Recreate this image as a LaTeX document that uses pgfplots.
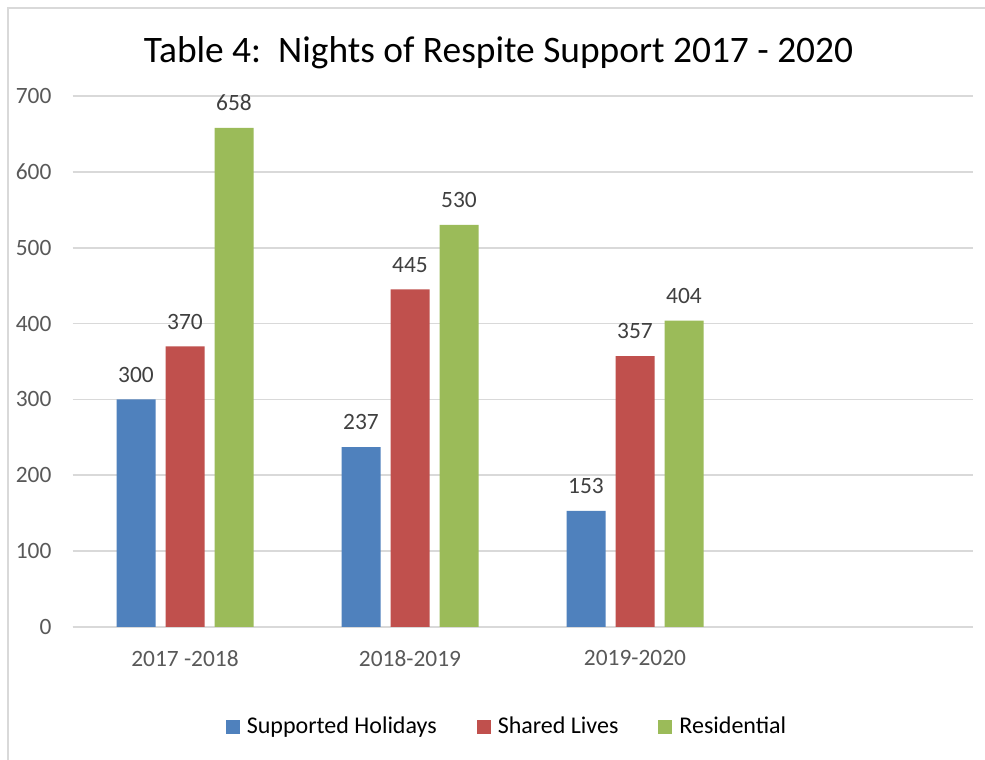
\documentclass[border=0pt]{standalone}
\usepackage{pgfplots}
\pgfplotsset{compat=1.18}
\usepackage{fontspec}
\setmainfont{Carlito}
\definecolor{cblue}{HTML}{4F81BD}
\definecolor{cred}{HTML}{C0504D}
\definecolor{cgreen}{HTML}{9BBB59}
\definecolor{gridc}{HTML}{D9D9D9}
\definecolor{tickc}{HTML}{595959}
\definecolor{labc}{HTML}{404040}
\begin{document}
\begin{tikzpicture}
\path[use as bounding box] (0pt,0pt) rectangle (492.5pt,380pt);
\fill[white] (0pt,0pt) rectangle (492.5pt,380pt);
\draw[gridc, line width=0.8pt] (4pt,0pt) -- (4pt,376pt) -- (492.5pt,376pt);
\node[font=\fontsize{18.7}{22}\selectfont, black] at (249.25pt,353.5pt) {Table 4:\ \ Nights of Respite Support 2017 - 2020};
\begin{axis}[
  at={(36.25pt,66.5pt)}, anchor=south west,
  scale only axis, width=450pt, height=265.5pt,
  xmin=-0.5, xmax=3.5, ymin=0, ymax=700,
  axis line style={draw=none},
  axis x line*=bottom,
  ytick={0,100,...,700},
  xtick={0,1,2,3},
  xticklabels={2017 -2018,2018-2019,2019-2020,{}},
  major tick length=0pt,
  ymajorgrids, grid style={gridc, line width=0.8pt},
  /pgf/number format/assume math mode=true,
  tick label style={font=\fontsize{11.7}{14}\selectfont, text=tickc},
  yticklabel style={xshift=-7pt},
  xticklabel style={yshift=-8pt},
  ybar, bar width=19.5pt,
  nodes near coords,
  nodes near coords style={font=\fontsize{11.7}{14}\selectfont, text=labc, yshift=5pt},
  legend style={draw=none, at={(0.4839,-0.1883)}, anchor=center,
    font=\fontsize{12}{14}\selectfont, legend columns=-1,
    /tikz/every odd column/.append style={column sep=1.5pt},
    /tikz/every even column/.append style={column sep=18pt}},
  legend image code/.code={\fill[#1] (0pt,-3.5pt) rectangle (7pt,3.5pt);},
]
\draw[gridc, line width=0.8pt] (axis cs:-0.5,0) -- (axis cs:3.5,0);
\addplot[fill=cblue, draw=none, bar shift=-24.5pt] coordinates {(0,300) (1,237) (2,153)};
\addplot[fill=cred, draw=none, bar shift=0pt] coordinates {(0,370) (1,445) (2,357)};
\addplot[fill=cgreen, draw=none, bar shift=24.5pt] coordinates {(0,658) (1,530) (2,404)};
\legend{Supported Holidays, Shared Lives, Residential}
\end{axis}
\end{tikzpicture}
\end{document}
